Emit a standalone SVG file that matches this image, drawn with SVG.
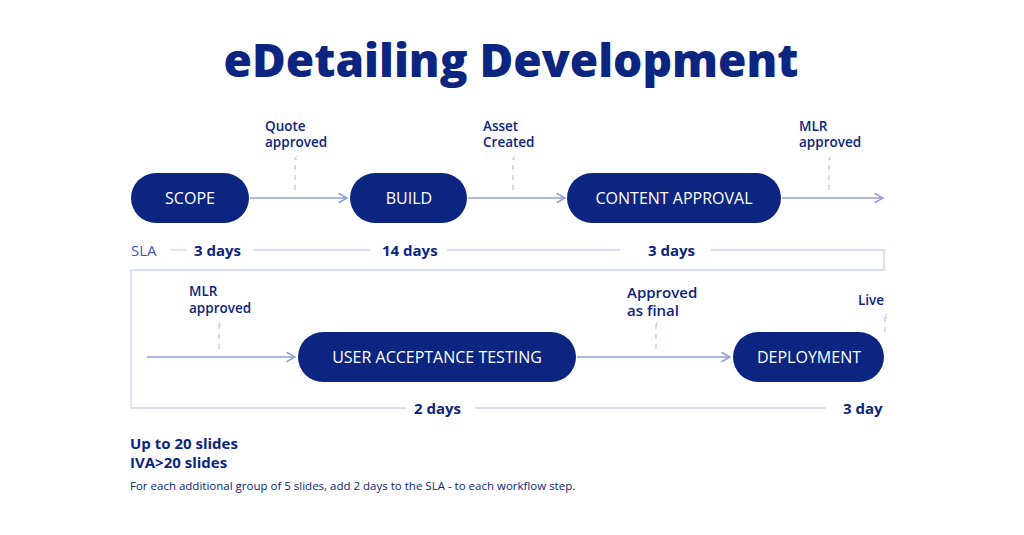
<svg xmlns="http://www.w3.org/2000/svg" width="1024" height="535" viewBox="0 0 1024 535">
<style>
text{font-family:"Open Sans","Liberation Sans",sans-serif;fill:#0b2580}
.t{font-size:16px;fill:#fff;text-anchor:middle;font-weight:500}
.l{font-size:13.5px;font-weight:600}
.d{font-size:15px;font-weight:700}
.n{fill:#0b2580}
.c{stroke:#8f9fd6;stroke-width:1.5;fill:none}
.s{stroke:#ccd5f2;stroke-width:1.3;fill:none}
.dash{stroke:#a9b5e0;stroke-width:1;stroke-dasharray:5,5;fill:none}
</style>
<defs>
<marker id="a" viewBox="0 0 10 10" refX="9" refY="5" markerWidth="8" markerHeight="8" orient="auto"><path d="M2,1 L9,5 L2,9" fill="none" stroke="#8f9fd6" stroke-width="1.3"/></marker>
<marker id="u" viewBox="0 0 10 10" refX="5" refY="1" markerWidth="5" markerHeight="5" orient="auto-start-reverse"><path d="M1,5 L5,1 L9,5" fill="none" stroke="#a9b5e0" stroke-width="1.3"/></marker>
</defs>
<rect width="1024" height="535" fill="#fff"/>
<text x="511" y="77" text-anchor="middle" style="font-size:46px;font-weight:800;font-family:'Open Sans','Liberation Sans',sans-serif">eDetailing Development</text>
<g id="connectors">
<line class="c" x1="250" y1="198" x2="347" y2="198" marker-end="url(#a)"/>
<line class="c" x1="468" y1="198" x2="565" y2="198" marker-end="url(#a)"/>
<line class="c" x1="782" y1="198" x2="883" y2="198" marker-end="url(#a)"/>
<line class="c" x1="147" y1="357" x2="295" y2="357" marker-end="url(#a)"/>
<line class="c" x1="577" y1="357" x2="730" y2="357" marker-end="url(#a)"/>
<line class="dash" x1="295" y1="190" x2="295" y2="158" marker-end="url(#u)"/>
<line class="dash" x1="513" y1="190" x2="513" y2="158" marker-end="url(#u)"/>
<line class="dash" x1="829" y1="190" x2="829" y2="158" marker-end="url(#u)"/>
<line class="dash" x1="219" y1="349" x2="219" y2="324" marker-end="url(#u)"/>
<line class="dash" x1="656" y1="349" x2="656" y2="324" marker-end="url(#u)"/>
<line class="dash" x1="885" y1="332" x2="885" y2="316" marker-end="url(#u)"/>
<line class="s" x1="170" y1="250" x2="186" y2="250" stroke="#3a5bc7"/>
<path class="s" d="M253,250 H370 M447,250 H620 M711,250 H884 V270 H131 V408 H406 M475,408 H826"/>
</g>
<g id="scope"><rect class="n" x="131" y="173" width="118" height="50" rx="25"/><text class="t" x="190" y="204">SCOPE</text></g>
<g id="build"><rect class="n" x="350" y="173" width="117" height="50" rx="25"/><text class="t" x="409" y="204">BUILD</text></g>
<g id="content"><rect class="n" x="567" y="173" width="214" height="50" rx="25"/><text class="t" x="674" y="204">CONTENT APPROVAL</text></g>
<g id="uat"><rect class="n" x="298" y="332" width="278" height="50" rx="25"/><text class="t" x="437" y="363">USER ACCEPTANCE TESTING</text></g>
<g id="deploy"><rect class="n" x="733" y="332" width="151" height="50" rx="25"/><text class="t" x="809" y="363">DEPLOYMENT</text></g>
<g id="labels">
<text class="l" x="265" y="131">Quote</text><text class="l" x="265" y="147">approved</text>
<text class="l" x="483" y="131">Asset</text><text class="l" x="483" y="147">Created</text>
<text class="l" x="799" y="131">MLR</text><text class="l" x="799" y="147">approved</text>
<text class="l" x="189" y="296">MLR</text><text class="l" x="189" y="313">approved</text>
<text class="l" x="627" y="298" style="font-size:15px">Approved</text><text class="l" x="627" y="316" style="font-size:15px">as final</text>
<text class="l" x="858" y="305">Live</text>
<text x="131" y="256" style="font-size:15px;fill:#3a5bc7;font-weight:500">SLA</text>
<text class="d" x="194" y="256">3 days</text>
<text class="d" x="382" y="256">14 days</text>
<text class="d" x="648" y="256">3 days</text>
<text class="d" x="414" y="414">2 days</text>
<text class="d" x="843" y="414">3 day</text>
<text class="d" x="130" y="449">Up to 20 slides</text>
<text class="d" x="130" y="468">IVA&gt;20 slides</text>
<text x="130" y="490" style="font-size:11.5px;font-weight:500">For each additional group of 5 slides, add 2 days to the SLA - to each workflow step.</text>
</g>
</svg>
